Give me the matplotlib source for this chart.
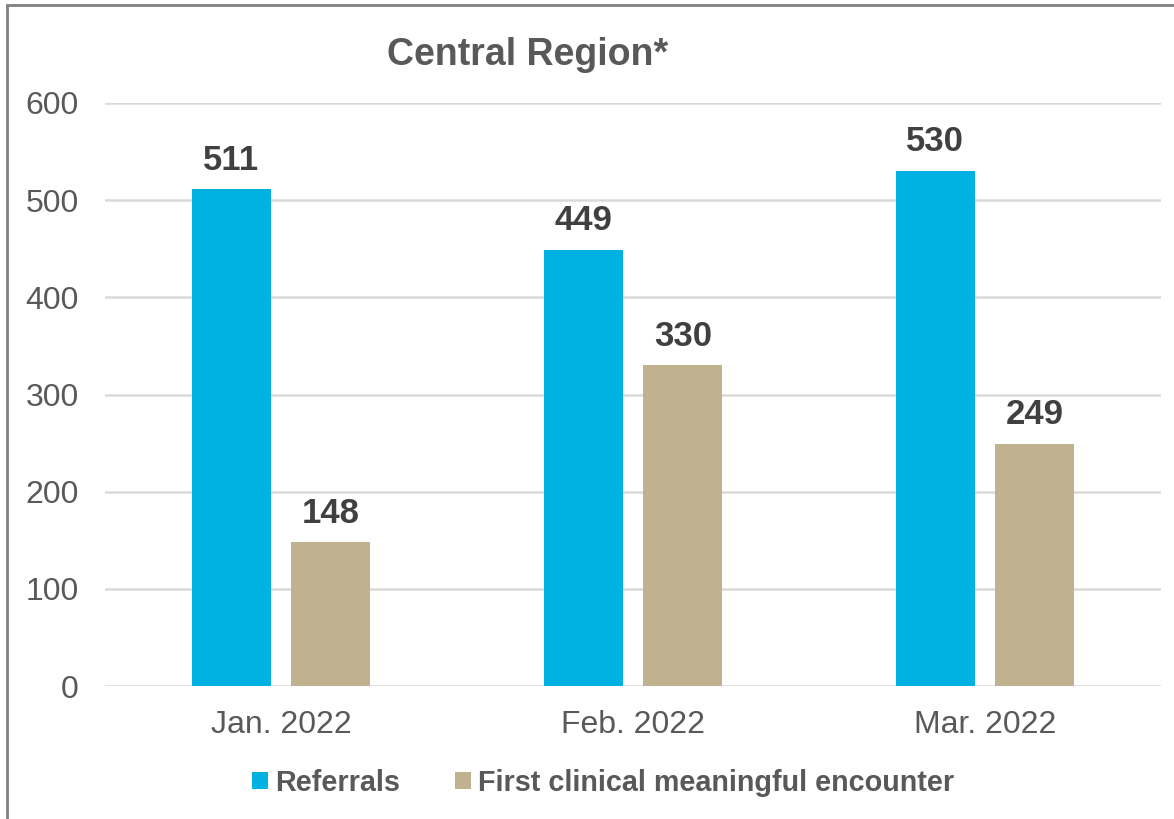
import matplotlib
matplotlib.use("Agg")
import matplotlib.pyplot as plt
import numpy as np
from matplotlib.patches import Rectangle

categories = ["Jan. 2022", "Feb. 2022", "Mar. 2022"]
referrals = [511, 449, 530]
encounters = [148, 330, 249]
series_names = ["Referrals", "First clinical meaningful encounter"]
yticks = [0, 100, 200, 300, 400, 500, 600]

plt.rcParams['font.family'] = ['Liberation Sans', 'DejaVu Sans']

W, H = 1174, 819
fig = plt.figure(figsize=(W / 100, H / 100), dpi=100)
ax = fig.add_axes([105 / W, 1 - 686 / H, (1161 - 105) / W, (686 - 103) / H])

blue = "#00B1E2"
tan = "#C0B28E"
txt = "#595959"
lab = "#404040"

x = np.arange(len(categories))
bw = 0.2244
off = 0.142
b1 = ax.bar(x - off, referrals, bw, color=blue, label=series_names[0], zorder=3)
b2 = ax.bar(x + off, encounters, bw, color=tan, label=series_names[1], zorder=3)

for bars in (b1, b2):
    for r in bars:
        ax.annotate(f"{int(r.get_height())}", (r.get_x() + r.get_width() / 2, r.get_height()),
                    xytext=(0, 21), textcoords="offset points", ha="center", va="center",
                    fontsize=25, fontweight="bold", color=lab)

ax.set_xlim(-0.5, 2.5)
ax.set_ylim(0, 600)
ax.set_yticks(yticks)
ax.set_xticks(x)
ax.set_xticklabels(categories)
ax.tick_params(axis="both", length=0, labelsize=23, labelcolor=txt)
ax.tick_params(axis="y", pad=19)
ax.tick_params(axis="x", pad=17)
ax.yaxis.grid(True, color="#D9D9D9", linewidth=1.8, zorder=0)
for s in ax.spines.values():
    s.set_visible(False)

fig.text(528 / W, 1 - 55 / H, "Central Region*", ha="center", va="center",
         fontsize=27, fontweight="bold", color=txt)

leg = fig.legend(handles=[b1, b2], labels=series_names, loc="center",
                 bbox_to_anchor=(603 / W, 1 - 783 / H), ncol=2, frameon=False,
                 prop={"size": 20.7, "weight": "bold"}, handlelength=0.55, handleheight=0.55,
                 handletextpad=0.25, columnspacing=1.9, labelcolor=txt)

fig.patches.append(Rectangle((7 / W, -0.05), 1.1, 1 - 5 / H + 0.05, transform=fig.transFigure,
                             fill=False, edgecolor="#808080", linewidth=2, clip_on=False))

fig.savefig("out.png", dpi=100)
